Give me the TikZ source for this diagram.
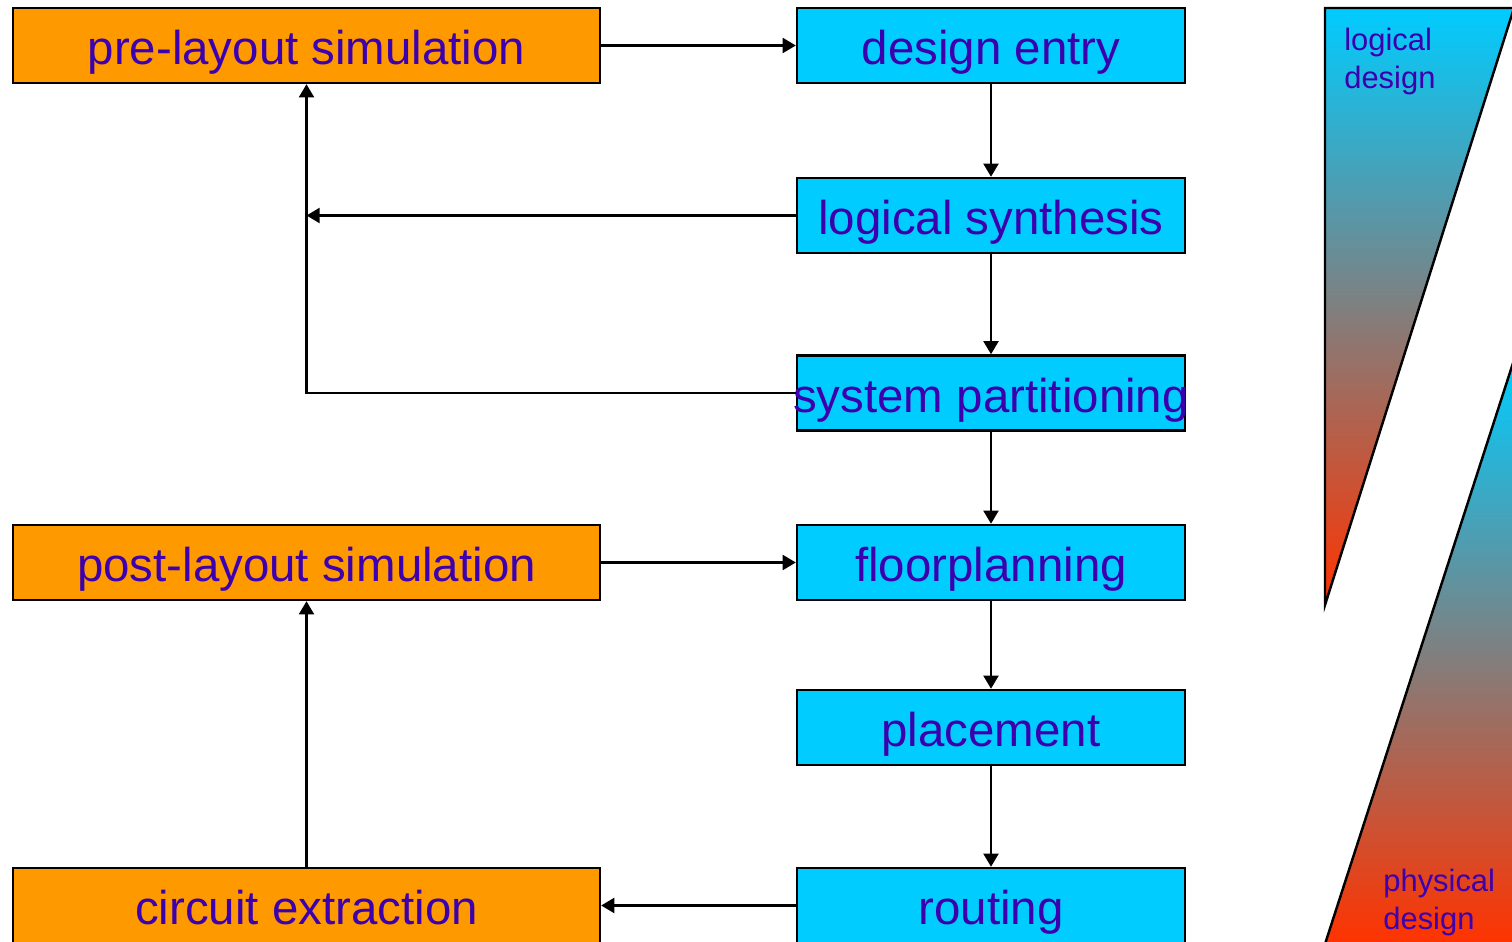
\documentclass[tikz,border=0pt]{standalone}
\usepackage{fontspec}
\setmainfont{Liberation Sans}
\usetikzlibrary{arrows.meta}
\definecolor{flowblue}{RGB}{0,204,255}
\definecolor{simorange}{RGB}{255,153,0}
\definecolor{labelpurple}{RGB}{60,0,175}
\definecolor{wedgered}{RGB}{255,51,0}
\begin{document}
\begin{tikzpicture}[x=0.02cm, y=-0.02cm,
    box/.style={draw=black, line width=1.4pt, minimum height=1.5cm, inner sep=0pt,
        text=labelpurple, text height=22pt, text depth=0pt,
        font=\fontsize{27}{32}\selectfont},
    simbox/.style={box, fill=simorange, minimum width=11.74cm},
    flowbox/.style={box, fill=flowblue, minimum width=7.76cm},
    flow/.style={line width=1.4pt, -{Triangle[length=7.5pt, width=8.5pt]}},
    phase/.style={text=labelpurple, font=\fontsize{17.6}{21.6}\selectfont,
        align=left, inner sep=0pt, anchor=north west}]
    \useasboundingbox (0,0) rectangle (1512,942);
    \clip (0,0) rectangle (1512,942);

    % Gradient wedges
    \shade[top color=flowblue, bottom color=wedgered] (1325,8) -- (1514,8) -- (1325,605) -- cycle;
    \draw[line width=1.4pt] (1325,8) -- (1514,8) -- (1325,605) -- cycle;
    \shade[top color=flowblue, bottom color=wedgered] (1325,944) -- (1514,360) -- (1514,944) -- cycle;
    \draw[line width=1.4pt] (1325,944) -- (1514,360);
    \node[phase] (logical) at (1344,28) {logical\\design};
    \node[phase] (physical) at (1383,869) {physical\\design};

    % Simulation boxes
    \node[simbox] (prelayout) at (306.5,45.5) {pre-layout simulation};
    \node[simbox] (postlayout) at (306.5,562.5) {post-layout simulation};
    \node[simbox] (extraction) at (306.5,905.5) {circuit extraction};

    % Design flow
    \node[flowbox] (entry) at (991,45.5) {design entry};
    \node[flowbox] (synthesis) at (991,215.5) {logical synthesis};
    \node[flowbox] (partition) at (991,393) {\makebox[0pt]{system partitioning}};
    \node[flowbox] (floorplan) at (991,562.5) {floorplanning};
    \node[flowbox] (placement) at (991,727.5) {placement};
    \node[flowbox] (routing) at (991,905.5) {routing};

    % Connectors
    \draw[flow] (prelayout) -- (entry);
    \draw[flow] (entry) -- (synthesis);
    \draw[flow] (synthesis) -- (partition);
    \draw[flow] (partition) -- (floorplan);
    \draw[flow] (floorplan) -- (placement);
    \draw[flow] (placement) -- (routing);
    \coordinate (merge) at (prelayout.south |- synthesis.west);
    \draw[flow] (synthesis.west) -- (merge);
    \draw[flow] (partition.west) -| (prelayout.south);
    \draw[flow] (postlayout) -- (floorplan);
    \draw[flow] (routing) -- (extraction);
    \draw[flow] (extraction) -- (postlayout);
\end{tikzpicture}
\end{document}
